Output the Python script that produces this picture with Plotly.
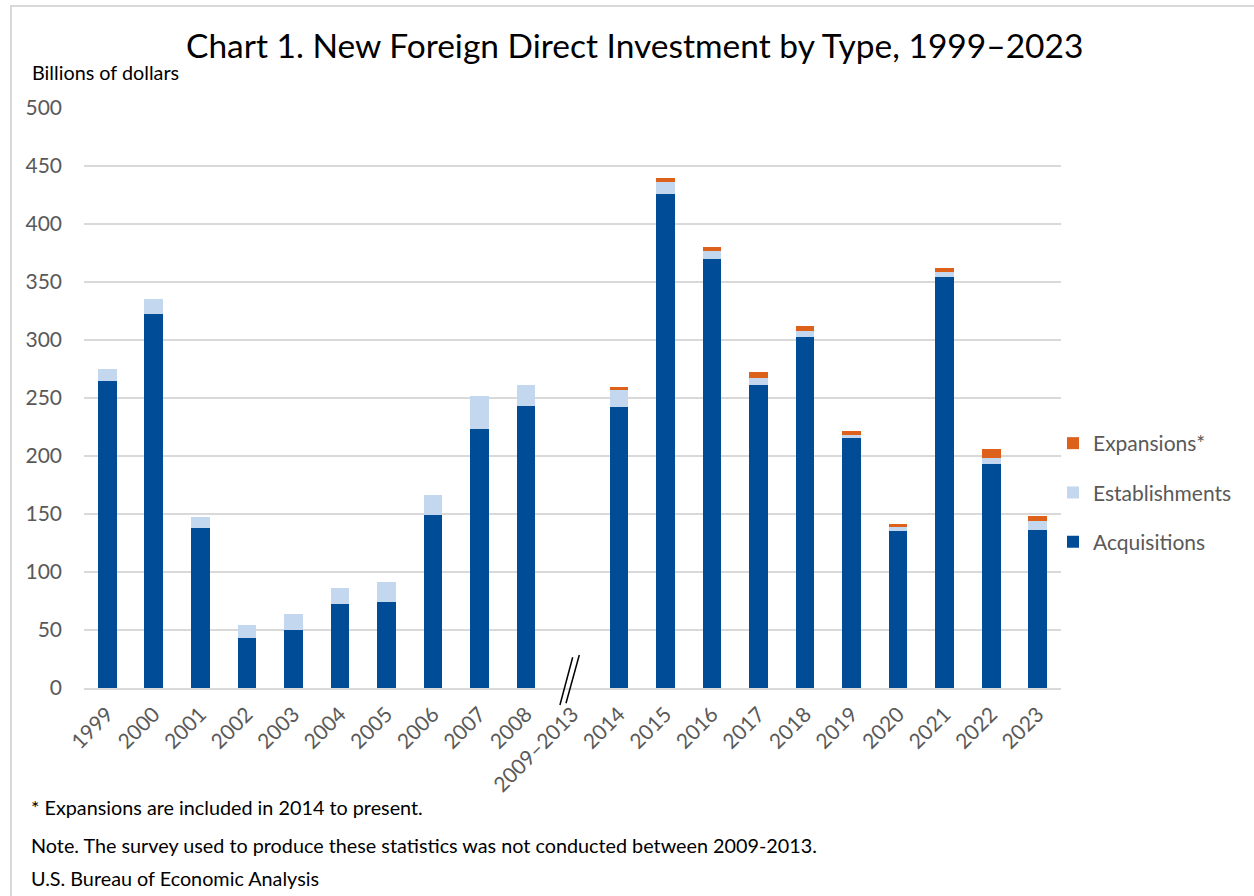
import plotly.graph_objects as go

years = ["1999", "2000", "2001", "2002", "2003", "2004", "2005", "2006", "2007", "2008",
         "2009–2013", "2014", "2015", "2016", "2017", "2018", "2019", "2020", "2021", "2022", "2023"]
acquisitions = [265, 322, 138, 43.5, 50, 72.7, 74, 149, 223.6, 243,
                None, 242.5, 425.6, 369.8, 261, 302.6, 215.8, 135.6, 354.3, 192.8, 136.2]
establishments = [10, 13, 9, 11, 13.5, 13.5, 17.5, 17, 28.4, 17.8,
                  None, 14, 11, 7, 6.3, 5.2, 2.6, 2.9, 4, 5.2, 7.5]
expansions = [None, None, None, None, None, None, None, None, None, None,
              None, 3.4, 3, 3, 5.2, 4.6, 2.9, 2.9, 3.8, 8.3, 4.9]

FONT = "Lato"
GRAY = "#595959"

fig = go.Figure()
fig.add_bar(x=years, y=acquisitions, name="Acquisitions", marker_color="#004C97",
            legendgroup="a", legendrank=3, marker_line_width=0)
fig.add_bar(x=years, y=establishments, name="Establishments", marker_color="#C3D7EE",
            legendgroup="b", legendrank=2, marker_line_width=0)
fig.add_bar(x=years, y=expansions, name="Expansions*", marker_color="#DD611B",
            legendgroup="c", legendrank=1, marker_line_width=0)

L, R, T, B = 84, 193, 108, 208
W, H = 1254, 896
pw, ph = W - L - R, H - T - B

def px(x):
    return (x - L) / pw

def py(y):
    return (H - B - y) / ph

fig.update_layout(
    width=W, height=H,
    margin=dict(l=L, r=R, t=T, b=B),
    barmode="stack", bargap=0.6,
    plot_bgcolor="white", paper_bgcolor="white",
    font=dict(family=FONT, color=GRAY),
    showlegend=True,
    legend=dict(x=px(1053), y=py(423), xanchor="left", yanchor="top",
                traceorder="grouped", tracegroupgap=19,
                font=dict(size=21, color=GRAY, family=FONT), bgcolor="rgba(0,0,0,0)"),
    xaxis=dict(type="category", tickangle=-45, tickfont=dict(size=21, color=GRAY),
               showline=True, linecolor="#D9D9D9", linewidth=1.5, showgrid=False,
               ticks="", ticklabelstandoff=4),
    yaxis=dict(range=[0, 500], dtick=50, tickfont=dict(size=21, color=GRAY),
               showgrid=True, gridcolor="#D9D9D9", gridwidth=1.5, zeroline=False,
               ticks="", ticklabelstandoff=21),
)

# Outer frame
fig.add_shape(type="rect", xref="paper", yref="paper",
              x0=px(11), x1=px(1262), y0=py(904), y1=py(6),
              line=dict(color="#D9D9D9", width=2), fillcolor="rgba(0,0,0,0)", layer="below")

# Axis break marks at 2009–2013
fig.add_shape(type="line", xref="x", yref="paper", x0=9.73, x1=10.004,
              y0=py(705), y1=py(657.3), line=dict(color="black", width=1.5))
fig.add_shape(type="line", xref="x", yref="paper", x0=9.86, x1=10.146,
              y0=py(703.3), y1=py(655), line=dict(color="black", width=1.5))

fig.add_annotation(text="Chart 1. New Foreign Direct Investment by Type, 1999–2023",
                   xref="paper", yref="paper", x=px(634), y=py(45),
                   xanchor="center", yanchor="middle", showarrow=False,
                   font=dict(size=33.5, color="black", family=FONT))
fig.add_annotation(text="Billions of dollars", xref="paper", yref="paper",
                   x=px(30), y=py(72), xanchor="left", yanchor="middle", showarrow=False,
                   font=dict(size=19.8, color="black", family=FONT))

notes = [("* Expansions are included in 2014 to present.", 807),
         ("Note. The survey used to produce these statistics was not conducted between 2009-2013.", 845),
         ("U.S. Bureau of Economic Analysis", 878)]
for txt, yy in notes:
    fig.add_annotation(text=txt, xref="paper", yref="paper", x=px(29), y=py(yy),
                       xanchor="left", yanchor="middle", showarrow=False,
                       font=dict(size=19.8, color="black", family=FONT))

fig.write_html("out.html")
